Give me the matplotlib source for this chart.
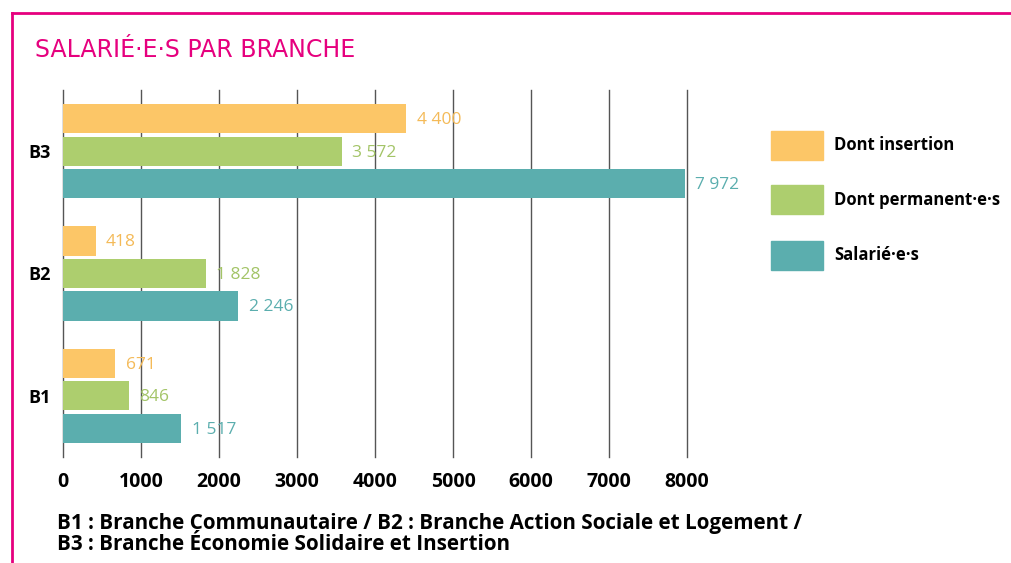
import matplotlib
matplotlib.use("Agg")
import matplotlib.pyplot as plt
from matplotlib.patches import Rectangle
from matplotlib.lines import Line2D

branches = ["B1", "B2", "B3"]
series_names = ["Dont insertion", "Dont permanent·e·s", "Salarié·e·s"]
insertion = [671, 418, 4400]
permanent = [846, 1828, 3572]
salaries = [1517, 2246, 7972]
xticks = [0, 1000, 2000, 3000, 4000, 5000, 6000, 7000, 8000]

colors = ["#FCC667", "#ADCE6E", "#5BAEAE"]
text_colors = ["#F4BA58", "#A3C467", "#5BAEAE"]
pink = "#E6007E"

plt.rcParams['font.family'] = ['Open Sans', 'DejaVu Sans']

fig = plt.figure(figsize=(10.11, 5.63), dpi=100)
W, H = 1011, 563

# pink frame lines
fig.add_artist(Line2D([12/W, 1.0], [1-13/H, 1-13/H], color=pink, lw=2, transform=fig.transFigure))
fig.add_artist(Line2D([12/W, 12/W], [0, 1-13/H], color=pink, lw=2, transform=fig.transFigure))

fig.text(35/W, 1-50/H, "SALARIÉ·E·S PAR BRANCHE", color=pink, fontsize=17,
         family=['DejaVu Sans'], va='center', ha='left')

ax = fig.add_axes([63/W, 1-457/H, 624/W, 367/H])
data = [insertion, permanent, salaries]
offsets = [0.266, 0.0, -0.266]
bh = 0.238
for vals, off, c, tc in zip(data, offsets, colors, text_colors):
    ys = [i + off for i in range(len(branches))]
    ax.barh(ys, vals, height=bh, color=c, zorder=3)
    for y, v in zip(ys, vals):
        s = f"{v:,}".replace(",", " ")
        ax.annotate(s, (v, y), xytext=(7.5, -1), textcoords='offset points',
                    ha='left', va='center', color=tc, fontsize=12.5,
                    annotation_clip=False)

ax.set_xlim(0, 8000)
ax.set_ylim(-0.5, 2.5)
ax.set_xticks(xticks)
ax.set_xticklabels([str(x) for x in xticks], fontsize=14, fontweight='bold')
ax.set_yticks(range(len(branches)))
ax.set_yticklabels(branches, fontsize=13, fontweight='bold')
ax.tick_params(axis='both', length=0)
ax.tick_params(axis='x', pad=11)
ax.tick_params(axis='y', pad=9)
for sp in ax.spines.values():
    sp.set_visible(False)
ax.grid(axis='x', color='#555555', lw=1, zorder=0)
for gl in ax.get_xgridlines():
    gl.set_clip_on(False)
ax.set_axisbelow(True)

# legend
for i, (name, c) in enumerate(zip(series_names, colors)):
    yc = 145 + 55 * i
    fig.add_artist(Rectangle((771/W, 1-(yc+14.5)/H), 52/W, 29/H, color=c,
                             transform=fig.transFigure))
    fig.text(834/W, 1-yc/H, name, fontsize=12, fontweight='bold', va='center', ha='left')

fig.text(57/W, 1-523/H, "B1 : Branche Communautaire / B2 : Branche Action Sociale et Logement /",
         fontsize=14.9, fontweight='bold', va='center', ha='left')
fig.text(57/W, 1-544/H, "B3 : Branche Économie Solidaire et Insertion",
         fontsize=14.9, fontweight='bold', va='center', ha='left')

fig.savefig("out.png", dpi=100)
